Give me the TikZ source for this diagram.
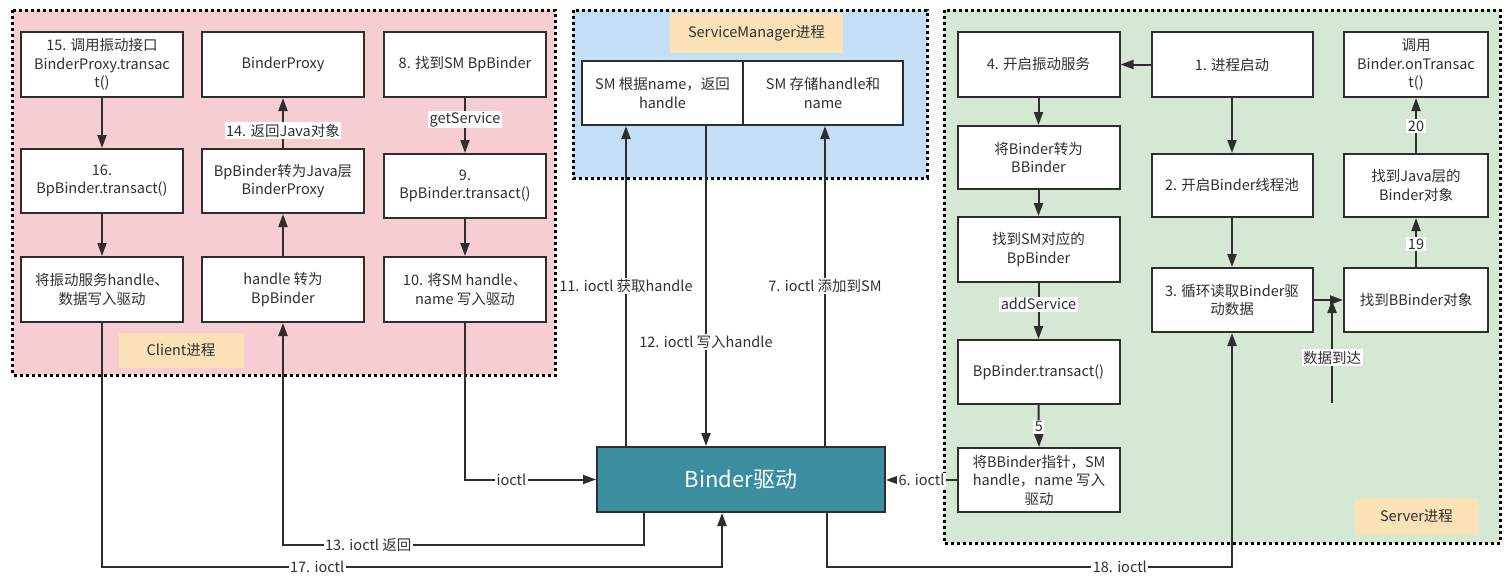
\documentclass[tikz,border=0pt]{standalone}
\usepackage{fontspec}
\setmainfont{Noto Sans CJK SC}
\usetikzlibrary{arrows.meta}
\definecolor{pinkbg}{HTML}{F7CDD4}
\definecolor{bluebg}{HTML}{C4DEF6}
\definecolor{greenbg}{HTML}{D4E8D3}
\definecolor{tagc}{HTML}{FBE2B6}
\definecolor{bindc}{HTML}{3A8EA0}
\definecolor{linec}{HTML}{2E2E2E}
\definecolor{textc}{HTML}{303030}
\newcommand\boxfont{\fontsize{14.5}{18.5}\selectfont}
\tikzset{
  box/.style={draw=linec, line width=2pt, fill=white, align=center, inner sep=2pt, text=textc, font=\boxfont},
  arr/.style={draw=linec, line width=2pt, -{Triangle[length=13pt,width=9pt]}},
  lbl/.style={fill=white, inner sep=1.5pt, text=textc, font=\boxfont},
  panel/.style={draw=black, line width=3pt, dash pattern=on 3pt off 3pt},
  tag/.style={fill=tagc, text=textc, font=\boxfont, inner sep=0pt},
}
\begin{document}
\begin{tikzpicture}[x=1pt,y=-1pt]
\fill[white] (0,0) rectangle (1512,581);
\useasboundingbox (0,0) rectangle (1512,581);
% panels
\draw[panel, fill=pinkbg] (12.5,10) rectangle (555,375);
\draw[panel, fill=bluebg] (573,10) rectangle (927,178);
\draw[panel, fill=greenbg] (944,10) rectangle (1500,543);
% tags
\node[tag, minimum width=125pt, minimum height=35pt] (tclient) at (181,350.5) {Client进程};
\node[tag, minimum width=173pt, minimum height=40pt] (tsm) at (756.5,33) {ServiceManager进程};
\node[tag, minimum width=123pt, minimum height=37pt] (tserver) at (1416.5,516.5) {Server进程};
% client boxes
\node[box, minimum width=162pt, minimum height=65pt] (c15) at (102,64.5) {15. 调用振动接口\\BinderProxy.transac\\t()};
\node[box, minimum width=162pt, minimum height=65pt] (bp) at (283,64.5) {BinderProxy};
\node[box, minimum width=162pt, minimum height=65pt] (c8) at (465,64.5) {8. 找到SM BpBinder};
\node[box, minimum width=162pt, minimum height=64pt] (c16) at (102,181) {16.\\BpBinder.transact()};
\node[box, minimum width=162pt, minimum height=64pt] (bpj) at (283,181) {BpBinder转为Java层\\BinderProxy};
\node[box, minimum width=162pt, minimum height=64pt] (c9) at (465,186) {9.\\BpBinder.transact()};
\node[box, minimum width=162pt, minimum height=65pt] (cw) at (102,289.5) {将振动服务handle、\\数据写入驱动};
\node[box, minimum width=162pt, minimum height=65pt] (ch) at (283,289.5) {handle 转为\\BpBinder};
\node[box, minimum width=162pt, minimum height=65pt] (c10) at (465,289.5) {10. 将SM handle、\\name 写入驱动};
% SM boxes
\node[box, minimum width=161pt, minimum height=64pt] (smL) at (662.5,93) {SM 根据name，返回\\handle};
\node[box, minimum width=160pt, minimum height=64pt] (smR) at (823,93) {SM 存储handle和\\name};
% binder
\node[draw=linec, line width=2pt, fill=bindc, text=white, font=\fontsize{22}{26}\selectfont, minimum width=288pt, minimum height=65pt] (binder) at (741,479.5) {Binder驱动};
% server boxes
\node[box, minimum width=162pt, minimum height=65pt] (A1) at (1038.5,64.5) {4. 开启振动服务};
\node[box, minimum width=162pt, minimum height=63pt] (A2) at (1038.5,157.5) {将Binder转为\\BBinder};
\node[box, minimum width=162pt, minimum height=65pt] (A3) at (1038.5,249.5) {找到SM对应的\\BpBinder};
\node[box, minimum width=162pt, minimum height=64pt] (A4) at (1038.5,372) {BpBinder.transact()};
\node[box, minimum width=162pt, minimum height=64pt] (A5) at (1039,480) {将BBinder指针，SM\\handle，name 写入\\驱动};
\node[box, minimum width=161pt, minimum height=65pt] (B1) at (1232,64.5) {1. 进程启动};
\node[box, minimum width=161pt, minimum height=63pt] (B2) at (1232,185.5) {2. 开启Binder线程池};
\node[box, minimum width=161pt, minimum height=64pt] (B3) at (1232,300) {3. 循环读取Binder驱\\动数据};
\node[box, minimum width=144pt, minimum height=65pt] (C1) at (1416,64.5) {调用\\Binder.onTransac\\t()};
\node[box, minimum width=144pt, minimum height=63pt] (C2) at (1416,185.5) {找到Java层的\\Binder对象};
\node[box, minimum width=144pt, minimum height=64pt] (C3) at (1416,300) {找到BBinder对象};
% helper coordinates
\coordinate (x11) at (626,0);
\coordinate (x12) at (706,0);
\coordinate (x7) at (825,0);
\coordinate (x13) at (644,0);
\coordinate (x17) at (722,0);
\coordinate (x18) at (827,0);
\coordinate (y13) at (0,545);
\coordinate (y17) at (0,567);
\coordinate (dstart) at (1332,403);
% client arrows
\draw[arr] (c15.south) -- (c16.north);
\draw[arr] (c16.south) -- (cw.north);
\draw[arr] (ch.north) -- (bpj.south);
\draw[arr] (bpj.north) -- node[lbl,pos=0.35]{14. 返回Java对象} (bp.south);
\draw[arr] (c8.south) -- node[lbl,pos=0.39]{getService} (c9.north);
\draw[arr] (c9.south) -- (c10.north);
% SM arrows
\draw[arr] (binder.north -| x11) -- node[lbl]{11. ioctl 获取handle} (smL.south -| x11);
\draw[arr] (smL.south -| x12) -- node[lbl,pos=0.674]{12. ioctl 写入handle} (binder.north -| x12);
\draw[arr] (binder.north -| x7) -- node[lbl]{7. ioctl 添加到SM} (smR.south -| x7);
% driver connections
\draw[arr] (c10.south) |- node[lbl,pos=0.677]{ioctl} (binder.west);
\draw[arr] (binder.south -| x13) -- (x13 |- y13) -- node[lbl,pos=0.764]{13. ioctl 返回} (ch.south |- y13) -- (ch.south);
\draw[arr] (cw.south) -- (cw.south |- y17) -- node[lbl,pos=0.347]{17. ioctl} (x17 |- y17) -- (binder.south -| x17);
\draw[arr] (binder.south -| x18) -- (x18 |- y17) -- node[lbl,pos=0.723]{18. ioctl} (B3.south |- y17) -- (B3.south);
\draw[arr] (A5.west) -- node[lbl]{6. ioctl} (binder.east |- A5.west);
% server arrows
\draw[arr] (B1.west) -- (A1.east);
\draw[arr] (A1.south) -- (A2.north);
\draw[arr] (A2.south) -- (A3.north);
\draw[arr] (A3.south) -- node[lbl,pos=0.38]{addService} (A4.north);
\draw[arr] (A4.south) -- node[lbl,pos=0.52]{5} (A5.north);
\draw[arr] (B1.south) -- (B2.north);
\draw[arr] (B2.south) -- (B3.north);
\draw[arr] (B3.east) -- (C3.west);
\draw[arr] (C3.north) -- node[lbl,pos=0.47]{19} (C2.south);
\draw[arr] (C2.north) -- node[lbl,pos=0.49]{20} (C1.south);
\draw[arr] (dstart) -- node[lbl,pos=0.44]{数据到达} (dstart |- B3.east);
\end{tikzpicture}
\end{document}
